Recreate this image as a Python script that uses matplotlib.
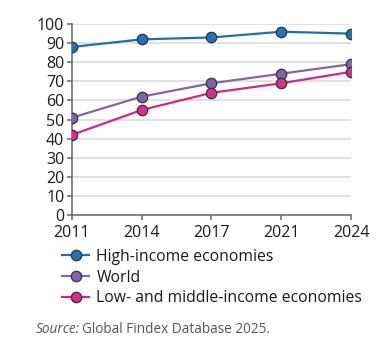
import matplotlib.pyplot as plt
import numpy as np
import matplotlib

matplotlib.rcParams['font.family'] = ['Open Sans', 'DejaVu Sans']
matplotlib.rcParams['font.size'] = 11

years = ['2011', '2014', '2017', '2021', '2024']
high_income = [88, 92, 93, 96, 95]
world = [51, 62, 69, 74, 79]
low_middle = [42, 55, 64, 69, 75]

series_names = ['High-income economies', 'World', 'Low- and middle-income economies']
line_colors = ['#1b6fb5', '#8562ad', '#d6258a']
marker_colors = ['#1f73bb', '#8364a9', '#d92b8c']

fig = plt.figure(figsize=(3.87, 3.49), dpi=100)
ax = fig.add_axes([0.186, 0.384, 0.721, 0.547])

x = np.arange(len(years))
for vals, name, lc, mc in zip([high_income, world, low_middle], series_names, line_colors, marker_colors):
    ax.plot(x, vals, color=lc, lw=1.6, marker='o', markersize=7.5,
            markerfacecolor=mc, markeredgecolor='#333333', markeredgewidth=0.9,
            label=name, zorder=3)

ax.set_xlim(0, len(years) - 1)
ax.set_ylim(0, 100)
ax.set_yticks(np.arange(0, 101, 10))
ax.set_xticks(x)
ax.set_xticklabels(years)
ax.grid(axis='y', color='#dcdcdc', lw=1.2, zorder=0)
ax.set_axisbelow(True)

for s in ['top', 'right']:
    ax.spines[s].set_visible(False)
for s in ['left', 'bottom']:
    ax.spines[s].set_color('#666666')
    ax.spines[s].set_linewidth(1.1)
ax.tick_params(axis='both', colors='#666666', length=3.5, width=1.1, labelcolor='#1a1a1a', labelsize=11.5)
ax.tick_params(axis='y', pad=2)
ax.tick_params(axis='x', pad=3.5)

fig.legend(loc='upper left', bbox_to_anchor=(0.16, 0.287), frameon=False,
           borderpad=0, borderaxespad=0, handlelength=1.75, handletextpad=0.45,
           labelspacing=0.3, fontsize=11.3, labelcolor='#1a1a1a')

fig.text(0.093, 0.055, 'Source:', fontsize=9.8, style='italic', color='#555555', va='center')
fig.text(0.093 + 0.118, 0.055, 'Global Findex Database 2025.', fontsize=9.8, color='#555555', va='center')

plt.savefig('out.png', dpi=100)
